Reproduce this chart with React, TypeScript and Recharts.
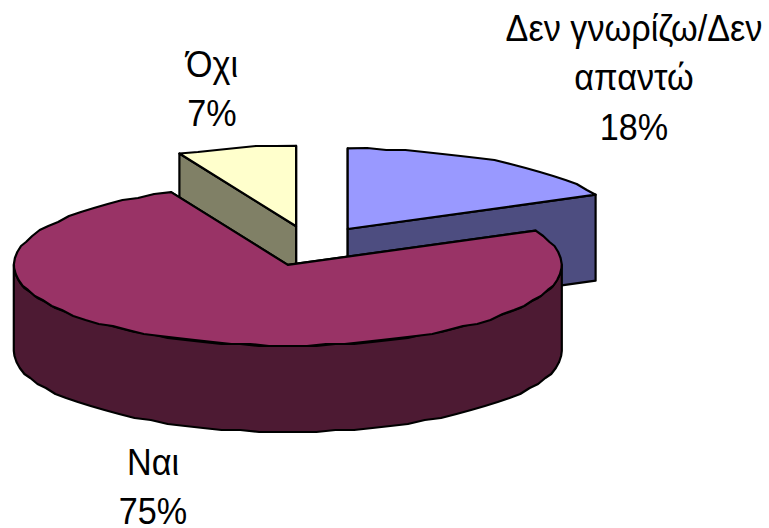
import { PieChart, Pie, Cell } from 'recharts';

// drawn back to front, so "Ναι" has to come last
const sliceNames = ['Όχι', 'Δεν γνωρίζω/Δεν απαντώ', 'Ναι'];
const sliceValues = [7, 18, 75];
const topColors = ['#FFFFCC', '#9999FF', '#993366'];
const sideColors = ['#808066', '#4D4D80', '#4D1A33'];
const labelLines = [
  ['Όχι', '7%'],
  ['Δεν γνωρίζω/Δεν', 'απαντώ', '18%'],
  ['Ναι', '75%'],
];
const labelCentres = [
  { x: 212, y: 77 },
  { x: 634, y: 41 },
  { x: 153, y: 475 },
];

const RADIUS = 274;
const SQUASH = 0.294; // flattening of the tilted disc
const DEPTH = 86;
const EXPLODE = 0.25;
const ARC_STEP = 4;
const SNAP = 2; // the original outline is jagged, as if drawn on a coarser grid

const rad = (a: number) => (a * Math.PI) / 180;
const snap = (v: number) => Math.round(v / SNAP) * SNAP;

function arcPoints(cx: number, cy: number, r: number, from: number, to: number) {
  const pts: [number, number][] = [];
  const n = Math.max(1, Math.round(Math.abs(from - to) / ARC_STEP));
  for (let i = 0; i <= n; i++) {
    const a = from + ((to - from) * i) / n;
    const px = cx + r * Math.cos(rad(a));
    const py = cy - r * SQUASH * Math.sin(rad(a));
    // leave the slice corners exact so the cut faces stay straight
    pts.push(i === 0 || i === n ? [px, py] : [px, snap(py)]);
  }
  return pts;
}

const toPath = (pts: [number, number][]) =>
  pts.map((p, i) => `${i ? 'L' : 'M'}${p[0].toFixed(1)},${p[1].toFixed(1)}`).join(' ') + ' Z';

function Slice3D(props: any) {
  const { cx, cy, outerRadius, startAngle, endAngle, index } = props;
  const mid = (startAngle + endAngle) / 2;
  const x = cx + EXPLODE * outerRadius * Math.cos(rad(mid));
  const y = cy - EXPLODE * outerRadius * SQUASH * Math.sin(rad(mid));
  const side = sideColors[index];
  const down = (p: [number, number]): [number, number] => [p[0], p[1] + DEPTH];

  const top = arcPoints(x, y, outerRadius, startAngle, endAngle);
  const first = top[0];
  const last = top[top.length - 1];
  const apex: [number, number] = [x, y];

  // the part of the rim facing the viewer lies between -180 and 0 degrees
  const wallFrom = Math.min(startAngle, 0);
  const wallTo = Math.max(endAngle, -180);
  const wall = wallFrom > wallTo ? arcPoints(x, y, outerRadius, wallFrom, wallTo) : null;

  const common = { stroke: '#000', strokeWidth: 2.2, strokeLinejoin: 'round' as const };
  return (
    <g>
      <path d={toPath([apex, first, down(first), down(apex)])} fill={side} {...common} />
      <path d={toPath([apex, last, down(last), down(apex)])} fill={side} {...common} />
      {wall && <path d={toPath([...wall, ...wall.map(down).reverse()])} fill={side} {...common} />}
      <path d={toPath([apex, ...top])} fill={topColors[index]} {...common} />
    </g>
  );
}

function SliceLabel({ index }: any) {
  const c = labelCentres[index];
  return (
    <text
      transform={`translate(${c.x} 0) scale(0.95 1)`}
      textAnchor="middle"
      fontFamily="Liberation Sans"
      fontSize={36}
      fill="#000"
    >
      {labelLines[index].map((line, i) => (
        <tspan key={line} x={0} y={c.y + i * 49.5}>
          {line}
        </tspan>
      ))}
    </text>
  );
}

const rows = sliceNames.map((name, i) => ({ name, value: sliceValues[i] }));

export default function App() {
  return (
    <div style={{ position: 'absolute', left: 0, top: 0, background: '#fff' }}>
      <PieChart width={769} height={528} margin={{ top: 0, right: 0, bottom: 0, left: 0 }}>
        <Pie
          data={rows}
          dataKey="value"
          nameKey="name"
          cx={311}
          cy={246}
          innerRadius={0}
          outerRadius={RADIUS}
          startAngle={90 + (sliceValues[0] / 100) * 360}
          endAngle={90 + (sliceValues[0] / 100) * 360 - 360}
          paddingAngle={0}
          stroke="none"
          shape={Slice3D}
          label={SliceLabel}
          labelLine={false}
          isAnimationActive={false}
        >
          {rows.map((r, i) => (
            <Cell key={r.name} fill={topColors[i]} />
          ))}
        </Pie>
      </PieChart>
    </div>
  );
}
